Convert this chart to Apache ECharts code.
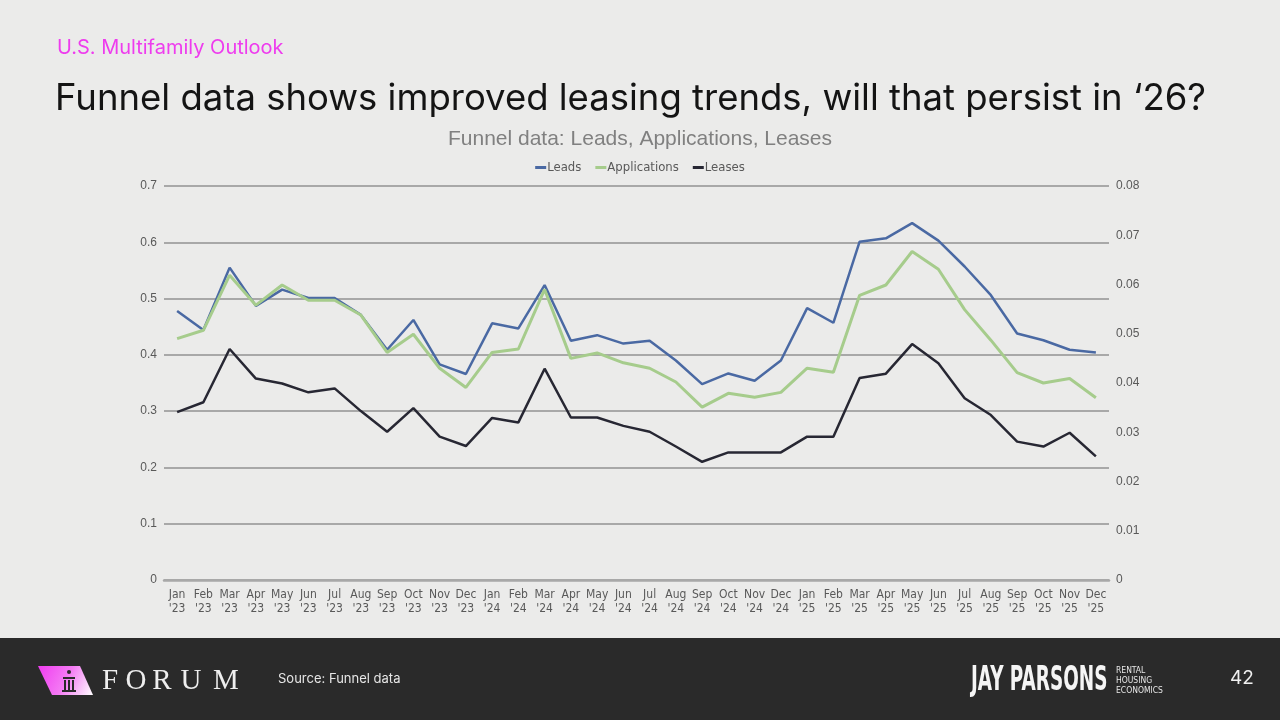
<!DOCTYPE html>
<html>
<head>
<meta charset="utf-8">
<title>Funnel data</title>
<script src="https://cdn.jsdelivr.net/npm/echarts@6/dist/echarts.min.js"></script>
<style>
html, body { margin: 0; padding: 0; background: #ebebea; }
#chart { width: 1280px; height: 720px; }
</style>
</head>
<body>
<div id="chart"></div>
<script>
// months on the x axis
var months = ["Jan '23","Feb '23","Mar '23","Apr '23","May '23","Jun '23","Jul '23","Aug '23","Sep '23","Oct '23","Nov '23","Dec '23",
              "Jan '24","Feb '24","Mar '24","Apr '24","May '24","Jun '24","Jul '24","Aug '24","Sep '24","Oct '24","Nov '24","Dec '24",
              "Jan '25","Feb '25","Mar '25","Apr '25","May '25","Jun '25","Jul '25","Aug '25","Sep '25","Oct '25","Nov '25","Dec '25"];

// Leads - left axis
var leads = [0.478,0.444,0.555,0.487,0.516,0.501,0.501,0.471,0.409,0.462,0.383,0.366,
             0.456,0.447,0.524,0.425,0.435,0.420,0.425,0.390,0.348,0.367,0.354,0.390,
             0.483,0.457,0.601,0.607,0.634,0.603,0.557,0.506,0.438,0.426,0.409,0.404];

// Applications - right axis
var applications = [0.0490,0.0507,0.0619,0.0558,0.0599,0.0568,0.0568,0.0538,0.0462,0.0499,0.0430,0.0391,
                    0.0462,0.0469,0.0590,0.0450,0.0461,0.0441,0.0430,0.0402,0.0351,0.0379,0.0371,0.0381,
                    0.0430,0.0422,0.0578,0.0599,0.0667,0.0631,0.0549,0.0487,0.0421,0.0400,0.0409,0.0370];

// Leases - right axis
var leases = [0.0341,0.0361,0.0469,0.0409,0.0399,0.0381,0.0389,0.0343,0.0301,0.0349,0.0291,0.0272,
              0.0329,0.0320,0.0429,0.0330,0.0330,0.0313,0.0301,0.0271,0.0240,0.0259,0.0259,0.0259,
              0.0291,0.0291,0.0410,0.0419,0.0479,0.0440,0.0369,0.0335,0.0281,0.0271,0.0299,0.0251];

var chart = echarts.init(document.getElementById('chart'));

var labelColor = '#595959';
var gridColor = '#a8a8a8';
var narrow = '"Liberation Sans Narrow", "DejaVu Sans Condensed", Arial, sans-serif';

// FORUM letters, spaced out one by one
var forumLetters = ['F','O','R','U','M'];
var forumX = [110, 136, 162, 191, 226];
var forumText = [];
for (var i = 0; i < forumLetters.length; i++) {
    forumText.push({
        type: 'text', x: forumX[i], y: 681,
        style: { text: forumLetters[i], fill: '#eeeeee', font: '29px "Liberation Serif", "DejaVu Serif", serif',
                 align: 'center', verticalAlign: 'middle' }
    });
}

var option = {
    backgroundColor: '#ebebea',
    animation: false,
    title: {
        text: 'Funnel data: Leads, Applications, Leases',
        left: 'center',
        top: 124,
        textStyle: { color: '#808080', fontSize: 21, fontWeight: 'normal', fontFamily: 'Liberation Sans, Arial, sans-serif' }
    },
    legend: {
        top: 156,
        left: 'center',
        icon: 'rect',
        itemWidth: 11,
        itemHeight: 3,
        itemGap: 14,
        textStyle: { color: labelColor, fontSize: 13, fontFamily: narrow, padding: [0, 0, 0, -4] },
        data: ['Leads', 'Applications', 'Leases']
    },
    grid: { left: 164, right: 171, top: 186, bottom: 140 },
    xAxis: {
        type: 'category',
        data: months,
        boundaryGap: true,
        axisLine: { lineStyle: { color: gridColor, width: 2.5 } },
        axisTick: { show: false },
        axisLabel: {
            color: labelColor, fontSize: 12, fontFamily: narrow, lineHeight: 14, margin: 8, interval: 0,
            formatter: function (v) { return v.replace(' ', '\n'); }
        }
    },
    yAxis: [{
        type: 'value', min: 0, max: 0.7, interval: 0.1,
        axisLine: { show: false }, axisTick: { show: false },
        axisLabel: { color: labelColor, fontSize: 12, fontFamily: 'Liberation Sans, Arial, sans-serif', margin: 7,
                     formatter: function (v) { return v === 0 ? '0' : v.toFixed(1); } },
        splitLine: { lineStyle: { color: gridColor, width: 2 } }
    }, {
        type: 'value', min: 0, max: 0.08, interval: 0.01,
        axisLine: { show: false }, axisTick: { show: false },
        axisLabel: { color: labelColor, fontSize: 12, fontFamily: 'Liberation Sans, Arial, sans-serif', margin: 7,
                     formatter: function (v) { return v === 0 ? '0' : v.toFixed(2); } },
        splitLine: { show: false }
    }],
    series: [{
        name: 'Leads', type: 'line', yAxisIndex: 0, data: leads,
        symbol: 'none', color: '#4a69a3', lineStyle: { width: 2.5 }
    }, {
        name: 'Applications', type: 'line', yAxisIndex: 1, data: applications,
        symbol: 'none', color: '#a6cc8c', lineStyle: { width: 3 }
    }, {
        name: 'Leases', type: 'line', yAxisIndex: 1, data: leases,
        symbol: 'none', color: '#272733', lineStyle: { width: 2.5 }
    }],
    graphic: [
        // header
        { type: 'text', left: 57, top: 38,
          style: { text: 'U.S. Multifamily Outlook', fill: '#ee3cee', font: '20px Inter, "Noto Sans", sans-serif' } },
        { type: 'text', left: 55, top: 81,
          style: { text: 'Funnel data shows improved leasing trends, will that persist in \u201826?', fill: '#141414',
                   font: '36.5px Inter, "Noto Sans", sans-serif' } },
        // footer band
        { type: 'rect', shape: { x: 0, y: 638, width: 1280, height: 82 }, style: { fill: '#2a2a2a' } },
        // forum logo block
        { type: 'polygon', shape: { points: [[38, 666], [80, 666], [93, 695], [52, 695]] },
          style: { fill: { type: 'linear', x: 0, y: 0, x2: 1, y2: 1,
                   colorStops: [{ offset: 0, color: '#f03cf0' }, { offset: 0.5, color: '#f47af4' }, { offset: 1, color: '#ffffff' }] } } },
        { type: 'rect', shape: { x: 63, y: 677, width: 12, height: 2 }, style: { fill: '#2a2a2a' } },
        { type: 'rect', shape: { x: 64, y: 680, width: 2, height: 10 }, style: { fill: '#2a2a2a' } },
        { type: 'rect', shape: { x: 68, y: 680, width: 2, height: 10 }, style: { fill: '#2a2a2a' } },
        { type: 'rect', shape: { x: 72, y: 680, width: 2, height: 10 }, style: { fill: '#2a2a2a' } },
        { type: 'rect', shape: { x: 62, y: 690, width: 14, height: 2 }, style: { fill: '#2a2a2a' } },
        { type: 'circle', shape: { cx: 69, cy: 672, r: 2 }, style: { fill: '#2a2a2a' } }
    ].concat(forumText).concat([
        { type: 'text', left: 278, top: 673,
          style: { text: 'Source: Funnel data', fill: '#e6e6e6', font: '13px Inter, "Noto Sans", sans-serif' } },
        { type: 'text', x: 971, y: 665, scaleX: 0.62,
          style: { text: 'JAY PARSONS', fill: '#f5f5f5', font: 'bold 33px ' + narrow } },
        { type: 'text', left: 1116, top: 666,
          style: { text: 'RENTAL\nHOUSING\nECONOMICS', fill: '#e6e6e6', lineHeight: 10, font: '8.5px ' + narrow } },
        { type: 'text', left: 1230, top: 669,
          style: { text: '42', fill: '#f0f0f0', font: '19px Inter, "Noto Sans", sans-serif' } }
    ])
};

chart.setOption(option);
</script>
</body>
</html>
